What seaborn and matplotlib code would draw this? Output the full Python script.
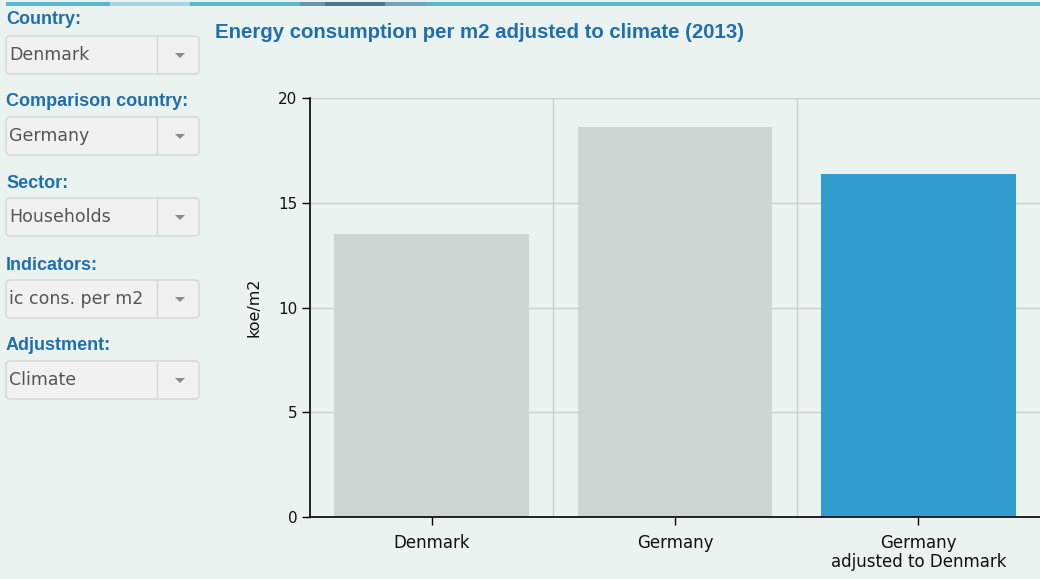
import matplotlib
matplotlib.use('Agg')
import matplotlib.pyplot as plt
import seaborn as sns
import pandas as pd
from matplotlib.patches import FancyBboxPatch, Rectangle, Polygon

# data
categories = ['Denmark', 'Germany', 'Germany\nadjusted to Denmark']
values = [13.5, 18.6, 16.35]
bar_colors = ['#cfd5d3', '#cfd5d3', '#339ccf']
y_ticks = [0, 5, 10, 15, 20]

# sidebar filter panel
filter_labels = ['Country:', 'Comparison country:', 'Sector:', 'Indicators:', 'Adjustment:']
filter_values = ['Denmark', 'Germany', 'Households', 'ic cons. per m2', 'Climate']

BG = '#ebf3f1'
BLUE_TXT = '#1f6eb0'

sns.set_theme(style='white')
plt.rcParams['font.family'] = ['DejaVu Sans']

fig = plt.figure(figsize=(10.4, 5.79), dpi=100, facecolor=BG)

# overlay in pixel coords for the page furniture
bg = fig.add_axes([0, 0, 1, 1], zorder=0)
bg.set_xlim(0, 1040)
bg.set_ylim(579, 0)
bg.axis('off')
bg.set_facecolor(BG)

# top gradient strip
bg.add_patch(Rectangle((6, 2), 1034, 4, color='#5ab7d0', lw=0))
bg.add_patch(Rectangle((110, 2), 80, 4, color='#a6d6e3', lw=0))
bg.add_patch(Rectangle((300, 2), 25, 4, color='#6b93b0', lw=0))
bg.add_patch(Rectangle((325, 2), 60, 4, color='#4f7393', lw=0))
bg.add_patch(Rectangle((385, 2), 40, 4, color='#6fa2bd', lw=0))

label_y = [20, 102, 184, 265, 345]
box_y = [36, 117, 198, 280, 361]
for lab, val, ly, by in zip(filter_labels, filter_values, label_y, box_y):
    bg.text(6, ly, lab, fontsize=13, fontweight='bold', color=BLUE_TXT,
            family='Liberation Sans', va='center', ha='left')
    bg.add_patch(FancyBboxPatch((6, by), 193, 38, boxstyle='round,pad=0,rounding_size=4',
                                fc='#f1f1f1', ec='#d6d6d6', lw=1))
    bg.plot([157, 157], [by + 1, by + 37], color='#d6d6d6', lw=1)
    bg.add_patch(Polygon([[175, by + 17], [185, by + 17], [180, by + 22]], color='#8a8a8a', lw=0))
    bg.text(9, by + 19, val, fontsize=12.5, color='#555555', va='center', ha='left')

bg.text(215, 33, 'Energy consumption per m2 adjusted to climate (2013)', fontsize=14.7,
        fontweight='bold', color=BLUE_TXT, family='Liberation Sans', va='center', ha='left')

ax = fig.add_axes([310 / 1040, 1 - 517 / 579, 730 / 1040, 419 / 579], zorder=1)
ax.set_facecolor('none')

df = pd.DataFrame({'category': categories, 'value': values})
sns.barplot(data=df, x='category', y='value', hue='category', palette=bar_colors,
            width=0.8, legend=False, ax=ax, saturation=1, linewidth=0, zorder=2)

ax.set_xlim(-0.5, 2.5)
ax.set_ylim(0, 20)
ax.set_yticks(y_ticks)
ax.set_xticks(range(len(categories)))
ax.set_xticks([0.5, 1.5], minor=True)
ax.grid(True, which='major', axis='y', color='#c9cecc', lw=1, zorder=0)
ax.grid(True, which='minor', axis='x', color='#c9cecc', lw=1, zorder=0)
ax.set_axisbelow(True)

for s in ['top', 'right']:
    ax.spines[s].set_visible(False)
for s in ['left', 'bottom']:
    ax.spines[s].set_color('black')
    ax.spines[s].set_linewidth(1.2)

ax.tick_params(axis='both', which='major', direction='out', length=6, width=1,
               color='black', labelcolor='#111111', left=True, bottom=True)
ax.tick_params(axis='x', which='minor', length=0)
ax.tick_params(axis='x', labelsize=12, pad=6)
ax.tick_params(axis='y', labelsize=11, pad=3)
for t in ax.get_xticklabels():
    t.set_linespacing(1.1)
ax.set_xlabel('')
ax.set_ylabel('koe/m2', fontsize=11.5, color='#111111', labelpad=12)

fig.savefig('out.png', dpi=100, facecolor=BG)
